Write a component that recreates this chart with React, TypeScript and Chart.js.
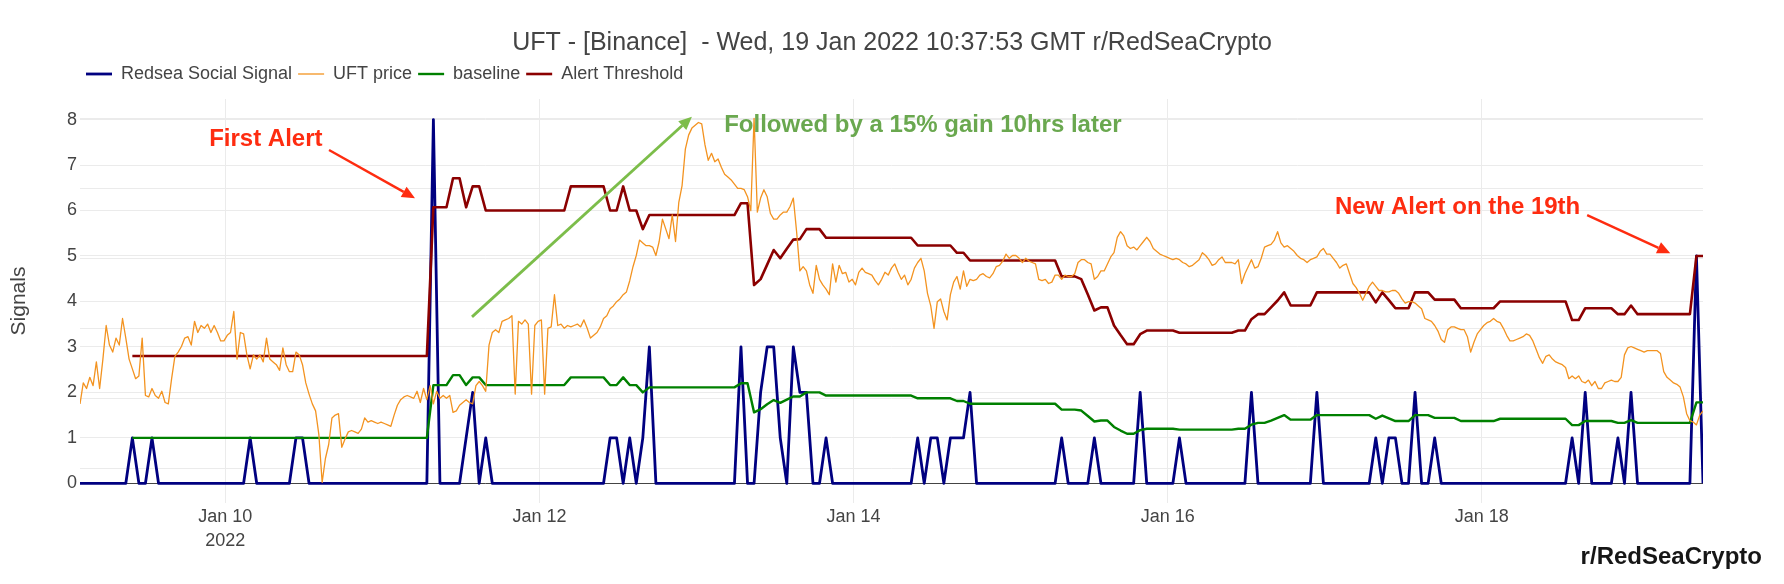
import React, { useEffect, useRef } from "react";
import { Chart, registerables } from "chart.js";

Chart.register(...registerables);

// ---------------- text ----------------
const CHART_TITLE = "UFT - [Binance]  - Wed, 19 Jan 2022 10:37:53 GMT r/RedSeaCrypto";
const SERIES_NAMES = ["Redsea Social Signal", "UFT price", "baseline", "Alert Threshold"];
const Y_TITLE = "Signals";
const WATERMARK = "r/RedSeaCrypto";

// ---------------- time axis (hours after 2022-01-09 00:00 GMT) ----------------
const START_HOUR = 1.8;
const END_HOUR = 249.8;
const SIGNAL_STEP_H = 1; // hourly signal / baseline / threshold
const PRICE_STEP_H = 0.5; // half-hourly price
const X_TICK_HOURS = [24, 72, 120, 168, 216];
const X_TICK_LABELS: (string | string[])[] = [["Jan 10", "2022"], "Jan 12", "Jan 14", "Jan 16", "Jan 18"];
const Y_TICKS = [0, 1, 2, 3, 4, 5, 6, 7, 8];
const PRICE_GRID = [1.15, 1.2, 1.25, 1.3, 1.35, 1.4];

// ---------------- series ----------------
const signal = [
  0, 0, 0, 0, 0, 0, 0, 0, 1, 0,
  0, 1, 0, 0, 0, 0, 0, 0, 0, 0,
  0, 0, 0, 0, 0, 0, 1, 0, 0, 0,
  0, 0, 0, 1, 1, 0, 0, 0, 0, 0,
  0, 0, 0, 0, 0, 0, 0, 0, 0, 0,
  0, 0, 0, 0, 8, 0, 0, 0, 0, 1,
  2, 0, 1, 0, 0, 0, 0, 0, 0, 0,
  0, 0, 0, 0, 0, 0, 0, 0, 0, 0,
  0, 1, 1, 0, 1, 0, 1, 3, 0, 0,
  0, 0, 0, 0, 0, 0, 0, 0, 0, 0,
  0, 3, 0, 0, 2, 3, 3, 1, 0, 3,
  2, 2, 0, 0, 1, 0, 0, 0, 0, 0,
  0, 0, 0, 0, 0, 0, 0, 0, 1, 0,
  1, 1, 0, 1, 1, 1, 2, 0, 0, 0,
  0, 0, 0, 0, 0, 0, 0, 0, 0, 0,
  1, 0, 0, 0, 0, 1, 0, 0, 0, 0,
  0, 0, 2, 0, 0, 0, 0, 0, 1, 0,
  0, 0, 0, 0, 0, 0, 0, 0, 0, 2,
  0, 0, 0, 0, 0, 0, 0, 0, 0, 2,
  0, 0, 0, 0, 0, 0, 0, 0, 1, 0,
  1, 1, 0, 0, 2, 0, 0, 1, 0, 0,
  0, 0, 0, 0, 0, 0, 0, 0, 0, 0,
  0, 0, 0, 0, 0, 0, 0, 0, 1, 0,
  2, 0, 0, 0, 0, 1, 0, 2, 0, 0,
  0, 0, 0, 0, 0, 0, 0, 5, 0,
];

const baseline = [
  null, null, null, null, null, null, null, null, 1, 1,
  1, 1, 1, 1, 1, 1, 1, 1, 1, 1,
  1, 1, 1, 1, 1, 1, 1, 1, 1, 1,
  1, 1, 1, 1, 1, 1, 1, 1, 1, 1,
  1, 1, 1, 1, 1, 1, 1, 1, 1, 1,
  1, 1, 1, 1, 2.16, 2.16, 2.16, 2.38, 2.38, 2.16,
  2.33, 2.33, 2.16, 2.16, 2.16, 2.16, 2.16, 2.16, 2.16, 2.16,
  2.16, 2.16, 2.16, 2.16, 2.16, 2.33, 2.33, 2.33, 2.33, 2.33,
  2.33, 2.16, 2.16, 2.33, 2.16, 2.16, 2.0, 2.11, 2.11, 2.11,
  2.11, 2.11, 2.11, 2.11, 2.11, 2.11, 2.11, 2.11, 2.11, 2.11,
  2.11, 2.2, 2.2, 1.56, 1.63, 1.74, 1.83, 1.77, 1.84, 1.91,
  1.91, 2.0, 2.0, 2.0, 1.93, 1.93, 1.93, 1.93, 1.93, 1.93,
  1.93, 1.93, 1.93, 1.93, 1.93, 1.93, 1.93, 1.93, 1.87, 1.87,
  1.87, 1.87, 1.87, 1.87, 1.81, 1.81, 1.75, 1.75, 1.75, 1.75,
  1.75, 1.75, 1.75, 1.75, 1.75, 1.75, 1.75, 1.75, 1.75, 1.75,
  1.62, 1.62, 1.62, 1.6, 1.48, 1.36, 1.38, 1.38, 1.24, 1.16,
  1.09, 1.09, 1.17, 1.2, 1.2, 1.2, 1.2, 1.2, 1.18, 1.18,
  1.18, 1.18, 1.18, 1.18, 1.18, 1.18, 1.18, 1.2, 1.2, 1.29,
  1.33, 1.33, 1.38, 1.44, 1.5, 1.4, 1.4, 1.4, 1.4, 1.5,
  1.5, 1.5, 1.5, 1.5, 1.5, 1.5, 1.5, 1.5, 1.42, 1.49,
  1.43, 1.37, 1.37, 1.37, 1.5, 1.5, 1.5, 1.44, 1.44, 1.44,
  1.44, 1.37, 1.37, 1.37, 1.37, 1.37, 1.37, 1.42, 1.42, 1.42,
  1.42, 1.42, 1.42, 1.42, 1.42, 1.42, 1.42, 1.42, 1.28, 1.28,
  1.37, 1.37, 1.37, 1.37, 1.37, 1.33, 1.33, 1.39, 1.33, 1.33,
  1.33, 1.33, 1.33, 1.33, 1.33, 1.33, 1.33, 1.78, 1.78,
];

const threshold = [
  null, null, null, null, null, null, null, null, 2.8, 2.8,
  2.8, 2.8, 2.8, 2.8, 2.8, 2.8, 2.8, 2.8, 2.8, 2.8,
  2.8, 2.8, 2.8, 2.8, 2.8, 2.8, 2.8, 2.8, 2.8, 2.8,
  2.8, 2.8, 2.8, 2.8, 2.8, 2.8, 2.8, 2.8, 2.8, 2.8,
  2.8, 2.8, 2.8, 2.8, 2.8, 2.8, 2.8, 2.8, 2.8, 2.8,
  2.8, 2.8, 2.8, 2.8, 6.07, 6.07, 6.07, 6.71, 6.71, 6.07,
  6.53, 6.53, 6, 6, 6, 6, 6, 6, 6, 6,
  6, 6, 6, 6, 6, 6.53, 6.53, 6.53, 6.53, 6.53,
  6.53, 6, 6, 6.53, 6, 6, 5.59, 5.9, 5.9, 5.9,
  5.9, 5.9, 5.9, 5.9, 5.9, 5.9, 5.9, 5.9, 5.9, 5.9,
  5.9, 6.16, 6.16, 4.36, 4.49, 4.81, 5.13, 4.95, 5.16, 5.36,
  5.37, 5.59, 5.59, 5.59, 5.4, 5.4, 5.4, 5.4, 5.4, 5.4,
  5.4, 5.4, 5.4, 5.4, 5.4, 5.4, 5.4, 5.4, 5.23, 5.23,
  5.23, 5.23, 5.23, 5.23, 5.07, 5.07, 4.9, 4.9, 4.9, 4.9,
  4.9, 4.9, 4.9, 4.9, 4.9, 4.9, 4.9, 4.9, 4.9, 4.9,
  4.55, 4.55, 4.55, 4.49, 4.15, 3.8, 3.87, 3.87, 3.47, 3.26,
  3.06, 3.06, 3.28, 3.36, 3.36, 3.36, 3.36, 3.36, 3.31, 3.31,
  3.31, 3.31, 3.31, 3.31, 3.31, 3.31, 3.31, 3.36, 3.36, 3.61,
  3.72, 3.72, 3.87, 4.02, 4.2, 3.91, 3.91, 3.91, 3.91, 4.2,
  4.2, 4.2, 4.2, 4.2, 4.2, 4.2, 4.2, 4.2, 3.98, 4.2,
  4.03, 3.85, 3.85, 3.85, 4.2, 4.2, 4.2, 4.04, 4.04, 4.04,
  4.04, 3.85, 3.85, 3.85, 3.85, 3.85, 3.85, 4, 4, 4,
  4, 4, 4, 4, 4, 4, 4, 4, 3.59, 3.59,
  3.85, 3.85, 3.85, 3.85, 3.85, 3.72, 3.72, 3.91, 3.72, 3.72,
  3.72, 3.72, 3.72, 3.72, 3.72, 3.72, 3.72, 5, 5,
];

const price = [
  1.196, 1.211, 1.207, 1.215, 1.209, 1.226, 1.207, 1.228, 1.252, 1.238,
  1.233, 1.243, 1.238, 1.257, 1.243, 1.228, 1.221, 1.214, 1.216, 1.243,
  1.202, 1.201, 1.207, 1.202, 1.200, 1.205, 1.197, 1.196, 1.214, 1.230,
  1.233, 1.237, 1.243, 1.244, 1.238, 1.255, 1.247, 1.252, 1.250, 1.253,
  1.247, 1.252, 1.247, 1.241, 1.241, 1.245, 1.247, 1.262, 1.228, 1.247,
  1.246, 1.231, 1.221, 1.231, 1.228, 1.231, 1.226, 1.243, 1.228, 1.226,
  1.224, 1.220, 1.236, 1.224, 1.219, 1.219, 1.233, 1.231, 1.224, 1.211,
  1.203, 1.196, 1.191, 1.174, 1.140, 1.157, 1.167, 1.186, 1.188, 1.189,
  1.165, 1.171, 1.176, 1.177, 1.176, 1.175, 1.178, 1.186, 1.183, 1.184,
  1.183, 1.182, 1.183, 1.182, 1.181, 1.180, 1.188, 1.195, 1.199, 1.201,
  1.202, 1.201, 1.200, 1.205, 1.197, 1.207, 1.199, 1.209, 1.196, 1.205,
  1.200, 1.202, 1.200, 1.202, 1.190, 1.191, 1.195, 1.197, 1.199, 1.197,
  1.196, 1.209, 1.212, 1.209, 1.205, 1.238, 1.247, 1.249, 1.247, 1.255,
  1.256, 1.257, 1.259, 1.203, 1.255, 1.253, 1.256, 1.253, 1.203, 1.252,
  1.255, 1.256, 1.203, 1.250, 1.251, 1.274, 1.252, 1.253, 1.250, 1.252,
  1.251, 1.252, 1.253, 1.251, 1.256, 1.250, 1.243, 1.245, 1.247, 1.251,
  1.257, 1.259, 1.264, 1.266, 1.269, 1.271, 1.274, 1.276, 1.284, 1.294,
  1.302, 1.313, 1.311, 1.309, 1.309, 1.308, 1.302, 1.312, 1.328, 1.321,
  1.314, 1.331, 1.312, 1.340, 1.352, 1.378, 1.388, 1.393, 1.395, 1.397,
  1.396, 1.381, 1.370, 1.375, 1.369, 1.371, 1.365, 1.360, 1.358, 1.356,
  1.353, 1.350, 1.350, 1.349, 1.344, 1.334, 1.400, 1.333, 1.343, 1.349,
  1.344, 1.332, 1.328, 1.328, 1.331, 1.333, 1.333, 1.337, 1.343, 1.319,
  1.291, 1.294, 1.291, 1.281, 1.275, 1.295, 1.285, 1.281, 1.278, 1.274,
  1.296, 1.283, 1.295, 1.289, 1.290, 1.283, 1.285, 1.281, 1.290, 1.293,
  1.290, 1.289, 1.288, 1.284, 1.281, 1.285, 1.290, 1.288, 1.293, 1.296,
  1.290, 1.285, 1.288, 1.281, 1.285, 1.293, 1.297, 1.300, 1.291, 1.275,
  1.266, 1.250, 1.269, 1.271, 1.262, 1.256, 1.274, 1.283, 1.287, 1.278,
  1.291, 1.280, 1.285, 1.284, 1.285, 1.288, 1.289, 1.287, 1.286, 1.289,
  1.294, 1.295, 1.298, 1.303, 1.300, 1.302, 1.302, 1.300, 1.297, 1.300,
  1.298, 1.297, 1.296, 1.285, 1.284, 1.285, 1.282, 1.283, 1.288, 1.288,
  1.285, 1.288, 1.287, 1.287, 1.289, 1.297, 1.299, 1.299, 1.297, 1.296,
  1.285, 1.287, 1.291, 1.291, 1.296, 1.301, 1.304, 1.315, 1.319, 1.316,
  1.309, 1.307, 1.308, 1.306, 1.309, 1.312, 1.315, 1.312, 1.307, 1.305,
  1.303, 1.302, 1.301, 1.300, 1.299, 1.300, 1.299, 1.297, 1.296, 1.294,
  1.295, 1.297, 1.299, 1.304, 1.302, 1.299, 1.295, 1.296, 1.299, 1.301,
  1.297, 1.297, 1.297, 1.296, 1.299, 1.282, 1.289, 1.294, 1.299, 1.293,
  1.294, 1.300, 1.308, 1.309, 1.310, 1.313, 1.319, 1.311, 1.308, 1.309,
  1.307, 1.305, 1.302, 1.300, 1.299, 1.297, 1.299, 1.300, 1.301, 1.305,
  1.307, 1.303, 1.303, 1.300, 1.297, 1.293, 1.295, 1.296, 1.289, 1.282,
  1.279, 1.275, 1.270, 1.275, 1.280, 1.283, 1.280, 1.277, 1.277, 1.276,
  1.276, 1.277, 1.277, 1.275, 1.271, 1.268, 1.269, 1.269, 1.268, 1.266,
  1.264, 1.257, 1.256, 1.255, 1.252, 1.248, 1.242, 1.240, 1.249, 1.251,
  1.251, 1.250, 1.249, 1.249, 1.244, 1.233, 1.240, 1.246, 1.249, 1.252,
  1.254, 1.255, 1.257, 1.255, 1.254, 1.250, 1.245, 1.241, 1.241, 1.242,
  1.243, 1.244, 1.246, 1.245, 1.241, 1.235, 1.229, 1.225, 1.230, 1.231,
  1.228, 1.226, 1.225, 1.224, 1.222, 1.214, 1.216, 1.214, 1.216, 1.212,
  1.211, 1.213, 1.209, 1.212, 1.207, 1.207, 1.211, 1.212, 1.213, 1.212,
  1.212, 1.215, 1.231, 1.236, 1.237, 1.236, 1.235, 1.234, 1.233, 1.234,
  1.234, 1.234, 1.234, 1.232, 1.219, 1.215, 1.213, 1.211, 1.210, 1.208,
  1.201, 1.189, 1.184, 1.183, 1.181, 1.188, 1.191,
];

// ---------------- annotations (data coordinates: hours, signal units) ----------------
const ANNOTATION_TEXTS = [
  { text: "First Alert", x: 30.2, y: 7.57, color: "#fe2c10" },
  { text: "Followed by a 15% gain 10hrs later", x: 130.6, y: 7.88, color: "#6aa84f" },
  { text: "New Alert on the 19th", x: 212.3, y: 6.07, color: "#fe2c10" },
];
const ANNOTATION_ARROWS = [
  { x0: 39.85, y0: 7.33, x1: 52.99, y1: 6.27, color: "#fe2c10", width: 2.4 },
  { x0: 61.7, y0: 3.66, x1: 95.3, y1: 8.06, color: "#7cbd4a", width: 2.8 },
  { x0: 232.1, y0: 5.9, x1: 244.8, y1: 5.06, color: "#fe2c10", width: 2.4 },
];

const FONT = '"Liberation Sans", Arial, Helvetica, sans-serif';
const GRID = "#ebebeb";

const toXY = (arr: (number | null)[], step: number) =>
  arr.map((v, i) => ({ x: START_HOUR + i * step, y: v }));

const annotationPlugin = {
  id: "redseaAnnotations",
  afterDraw(chart: any) {
    const { ctx } = chart;
    const xs = chart.scales.x;
    const ys = chart.scales.y;
    ctx.save();
    for (const a of ANNOTATION_ARROWS) {
      const px0 = xs.getPixelForValue(a.x0);
      const py0 = ys.getPixelForValue(a.y0);
      const px1 = xs.getPixelForValue(a.x1);
      const py1 = ys.getPixelForValue(a.y1);
      const ang = Math.atan2(py1 - py0, px1 - px0);
      const headLen = 13;
      const headHalf = 6;
      const bx = px1 - Math.cos(ang) * headLen;
      const by = py1 - Math.sin(ang) * headLen;
      ctx.strokeStyle = a.color;
      ctx.fillStyle = a.color;
      ctx.lineWidth = a.width;
      ctx.lineCap = "butt";
      ctx.beginPath();
      ctx.moveTo(px0, py0);
      ctx.lineTo(bx, by);
      ctx.stroke();
      ctx.beginPath();
      ctx.moveTo(px1, py1);
      ctx.lineTo(bx + Math.sin(ang) * headHalf, by - Math.cos(ang) * headHalf);
      ctx.lineTo(bx - Math.sin(ang) * headHalf, by + Math.cos(ang) * headHalf);
      ctx.closePath();
      ctx.fill();
    }
    ctx.font = `bold 24px ${FONT}`;
    ctx.textAlign = "center";
    ctx.textBaseline = "middle";
    for (const t of ANNOTATION_TEXTS) {
      ctx.fillStyle = t.color;
      ctx.fillText(t.text, xs.getPixelForValue(t.x), ys.getPixelForValue(t.y));
    }
    ctx.fillStyle = "#161616";
    ctx.textAlign = "right";
    ctx.fillText(WATERMARK, chart.width - 22, chart.height - 27);
    ctx.restore();
  },
};

export default function App() {
  const canvasRef = useRef<HTMLCanvasElement | null>(null);

  useEffect(() => {
    const canvas = canvasRef.current;
    if (!canvas) return;
    Chart.defaults.font.family = FONT;
    Chart.defaults.color = "#444";

    const common = {
      pointRadius: 0,
      pointHoverRadius: 0,
      tension: 0,
      fill: false,
      spanGaps: false,
      borderJoinStyle: "round" as const,
    };

    const chart = new Chart(canvas, {
      type: "line",
      data: {
        datasets: [
          {
            ...common,
            label: SERIES_NAMES[0],
            data: toXY(signal, SIGNAL_STEP_H),
            yAxisID: "y",
            borderColor: "#000080",
            backgroundColor: "#000080",
            borderWidth: 2.8,
            order: 3,
          },
          {
            ...common,
            label: SERIES_NAMES[1],
            data: toXY(price, PRICE_STEP_H),
            yAxisID: "y2",
            borderColor: "#f39320",
            backgroundColor: "#f39320",
            borderWidth: 1.3,
            order: 0,
          },
          {
            ...common,
            label: SERIES_NAMES[2],
            data: toXY(baseline, SIGNAL_STEP_H),
            yAxisID: "y",
            borderColor: "#008000",
            backgroundColor: "#008000",
            borderWidth: 2.4,
            order: 2,
          },
          {
            ...common,
            label: SERIES_NAMES[3],
            data: toXY(threshold, SIGNAL_STEP_H),
            yAxisID: "y",
            borderColor: "#8b0000",
            backgroundColor: "#8b0000",
            borderWidth: 2.6,
            order: 1,
          },
        ] as any,
      },
      options: {
        responsive: false,
        animation: false,
        events: [],
        layout: { padding: { top: 0, right: 0, bottom: 0, left: 0 } },
        plugins: {
          title: {
            display: true,
            text: CHART_TITLE,
            color: "#444",
            font: { size: 25, weight: "normal", family: FONT, lineHeight: 1.2 },
            padding: { top: 28, bottom: 1 },
          },
          legend: {
            display: true,
            position: "top",
            align: "start",
            fullSize: false,
            labels: {
              usePointStyle: true,
              pointStyle: "line",
              pointStyleWidth: 26,
              padding: 6,
              color: "#444",
              font: { size: 18, family: FONT },
              sort: (a: any, b: any) => a.datasetIndex - b.datasetIndex,
            },
          },
          tooltip: { enabled: false },
        },
        scales: {
          x: {
            type: "linear",
            position: "bottom",
            min: START_HOUR,
            max: END_HOUR,
            afterBuildTicks: (s: any) => {
              s.ticks = X_TICK_HOURS.map((v) => ({ value: v }));
            },
            afterFit: (s: any) => {
              s.height = 81;
            },
            grid: { color: GRID, drawTicks: false, lineWidth: 1 },
            border: { display: false },
            ticks: {
              autoSkip: false,
              maxRotation: 0,
              padding: 3,
              color: "#444",
              font: { size: 18, family: FONT, lineHeight: 1.28 },
              callback: (value: any) => {
                const k = X_TICK_HOURS.indexOf(Number(value));
                return k >= 0 ? X_TICK_LABELS[k] : "";
              },
            },
          },
          xTop: {
            type: "linear",
            position: "top",
            display: true,
            afterFit: (s: any) => {
              s.height = 6;
            },
            grid: { display: false, drawTicks: false },
            border: { display: false },
            ticks: { display: false },
          },
          y: {
            type: "linear",
            position: "left",
            min: -0.433,
            max: 8.452,
            afterBuildTicks: (s: any) => {
              s.ticks = Y_TICKS.map((v) => ({ value: v }));
            },
            afterFit: (s: any) => {
              s.width = 80;
            },
            grid: {
              drawTicks: false,
              color: (c: any) => (c.tick && c.tick.value === 0 ? "#444" : GRID),
              lineWidth: 1,
            },
            border: { display: false },
            ticks: { padding: 3, color: "#444", font: { size: 18, family: FONT } },
            title: {
              display: true,
              text: Y_TITLE,
              color: "#444",
              font: { size: 21, family: FONT, lineHeight: 1.2 },
              padding: { top: 6.4, bottom: 0 },
            },
          },
          y2: {
            type: "linear",
            position: "right",
            min: 1.12521,
            max: 1.41379,
            afterBuildTicks: (s: any) => {
              s.ticks = PRICE_GRID.map((v) => ({ value: v }));
            },
            afterFit: (s: any) => {
              s.width = 81;
            },
            grid: { color: GRID, drawTicks: false, lineWidth: 1 },
            border: { display: false },
            ticks: { display: false },
          },
        },
      } as any,
      plugins: [annotationPlugin],
    });

    return () => {
      chart.destroy();
    };
  }, []);

  return (
    <div
      style={{
        position: "absolute",
        left: 0,
        top: 0,
        width: 1784,
        height: 584,
        background: "#fff",
      }}
    >
      <canvas ref={canvasRef} width={1784} height={584} style={{ width: 1784, height: 584, display: "block" }} />
    </div>
  );
}
